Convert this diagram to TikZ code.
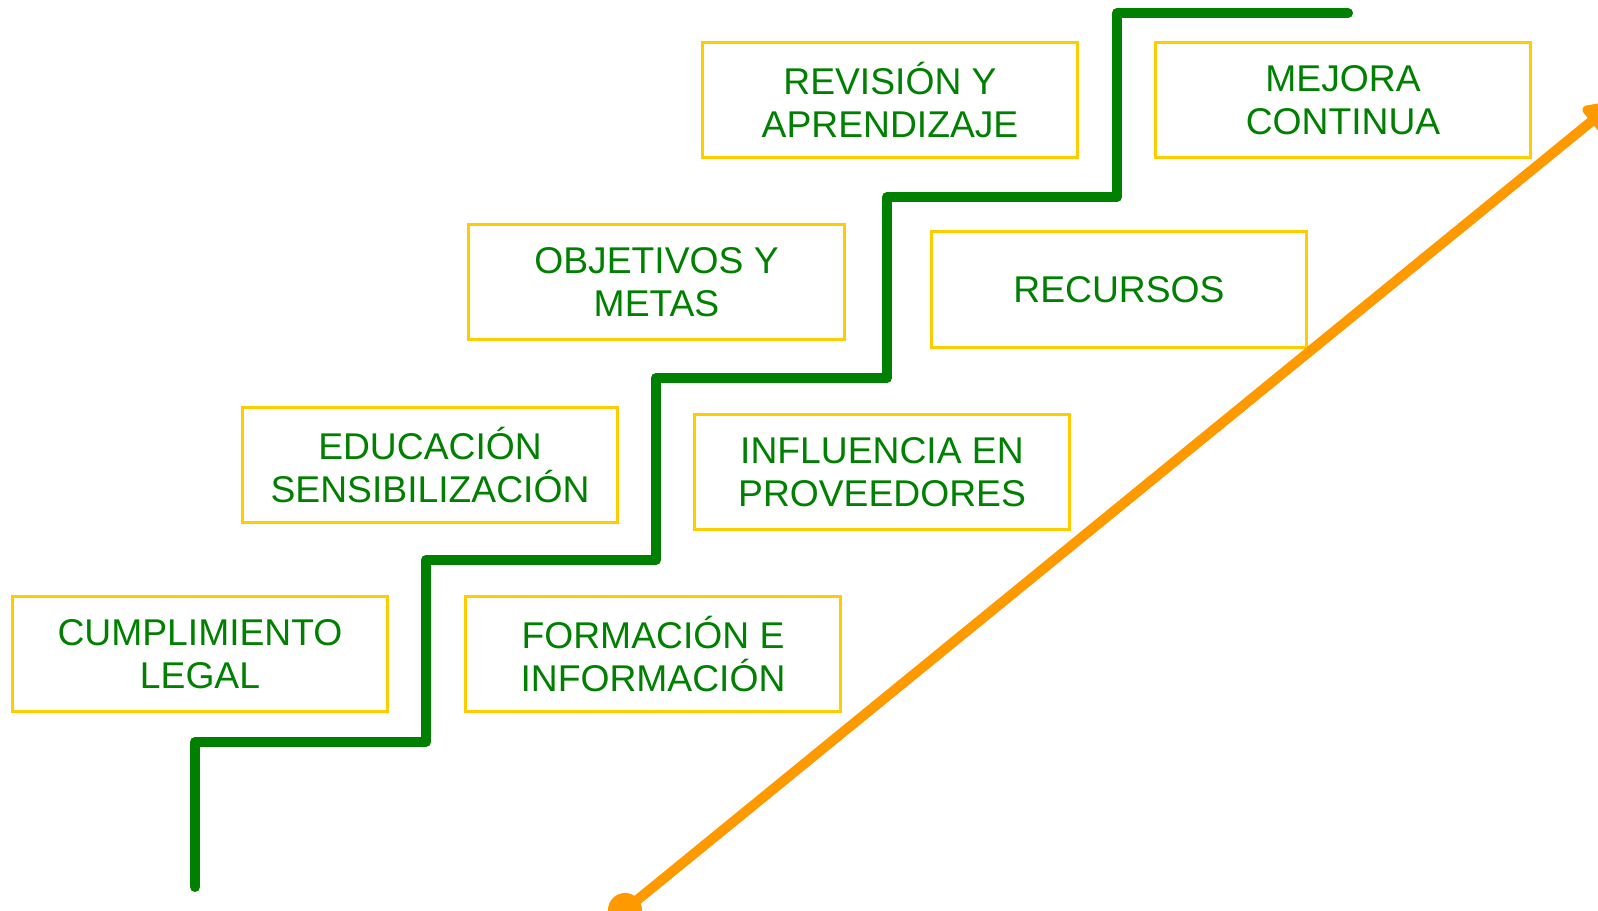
\documentclass[tikz,border=0pt]{standalone}
\usepackage{fontspec}
\setmainfont{Liberation Sans}
\usetikzlibrary{arrows.meta}
\definecolor{verde}{RGB}{0,128,0}
\definecolor{amarillo}{RGB}{255,204,0}
\definecolor{naranja}{RGB}{255,153,0}

\begin{document}
\begin{tikzpicture}[x=0.02cm,y=-0.02cm,
    caja/.style={draw=amarillo,line width=0.06cm,minimum width=7.52cm,minimum height=2.32cm,
      align=center,text=verde,font=\fontsize{21.2pt}{24.4pt}\selectfont},
    escalera/.style={draw=verde,line width=0.2cm,line cap=round,line join=round},
    flecha/.style={draw=naranja,line width=0.2cm,-{Triangle[round,length=0.7cm,width=0.72cm]}}]
      \path[use as bounding box,clip] (0,0) rectangle (1598,911);
      \node[caja] (cl) at (200,654) {CUMPLIMIENTO\\LEGAL}; \node[caja] (fi) at (653,654) {FORMACIÓN E\\INFORMACIÓN};
      \node[caja] (es) at (430,465) {EDUCACIÓN\\SENSIBILIZACIÓN}; \node[caja] (ip) at (882,472) {INFLUENCIA EN\\PROVEEDORES};
      \node[caja] (om) at (656.5,282) {OBJETIVOS Y\\METAS}; \node[caja] (re) at (1119,289.5) {RECURSOS};
      \node[caja] (ra) at (890,100) {REVISIÓN Y\\APRENDIZAJE}; \node[caja] (mc) at (1343,100) {MEJORA\\CONTINUA};
      \draw[escalera] (195,887) |- (426,742) |- (656,560) |- (887,378) |- (1117,197) |- (1348,13);
      \coordinate (s) at (625,910); \coordinate (e) at (1614,103);
      \fill[naranja] (s) circle (0.34cm);
      \draw[flecha] (s) -- (e);
    \end{tikzpicture}
\end{document}
